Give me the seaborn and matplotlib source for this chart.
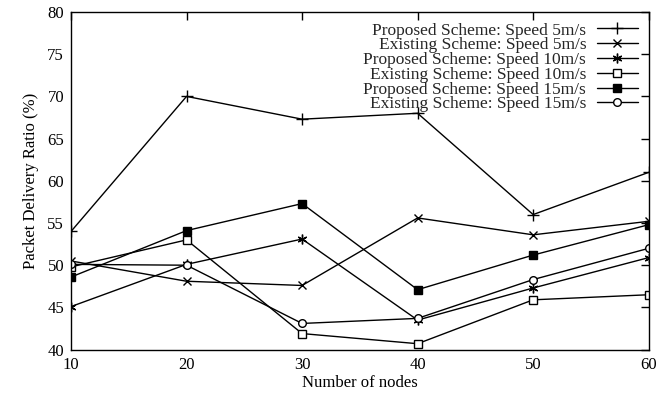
import matplotlib
matplotlib.use("Agg")
import matplotlib.pyplot as plt
import seaborn as sns
import pandas as pd

nodes = [10, 20, 30, 40, 50, 60]
proposed_5 = [54.0, 70.0, 67.3, 68.0, 56.0, 61.0]
existing_5 = [50.5, 48.1, 47.6, 55.6, 53.6, 55.2]
proposed_10 = [45.1, 50.1, 53.1, 43.5, 47.3, 50.9]
existing_10 = [49.8, 53.0, 41.9, 40.7, 45.9, 46.5]
proposed_15 = [48.6, 54.1, 57.3, 47.1, 51.2, 54.8]
existing_15 = [50.1, 50.0, 43.1, 43.7, 48.3, 52.0]

labels = [
    "Proposed Scheme: Speed 5m/s",
    "Existing Scheme: Speed 5m/s",
    "Proposed Scheme: Speed 10m/s",
    "Existing Scheme: Speed 10m/s",
    "Proposed Scheme: Speed 15m/s",
    "Existing Scheme: Speed 15m/s",
]
series = [proposed_5, existing_5, proposed_10, existing_10, proposed_15, existing_15]

sns.set_theme(style="white")
plt.rcParams['font.family'] = ['Liberation Serif', 'DejaVu Serif']

fig = plt.figure(figsize=(6.72, 3.93), dpi=100)
ax = fig.add_axes([0.1057, 0.1104, 0.8596, 0.8591])

styles = [
    dict(marker='+', markersize=9, markerfacecolor='black', mew=1.0),
    dict(marker='x', markersize=6, markerfacecolor='black', mew=1.0),
    dict(marker=(6, 2, 0), markersize=7, markerfacecolor='black', mew=1.0),
    dict(marker='s', markersize=5.5, markerfacecolor='white', mew=1.0),
    dict(marker='s', markersize=6, markerfacecolor='black', mew=1.0),
    dict(marker='o', markersize=5.5, markerfacecolor='white', mew=1.0),
]

for lab, vals, st in zip(labels, series, styles):
    df = pd.DataFrame({"nodes": nodes, "pdr": vals})
    sns.lineplot(data=df, x="nodes", y="pdr", ax=ax, color='black', linewidth=1.0,
                 markeredgecolor='black', label=lab, **st)

ax.set_xlim(10, 60)
ax.set_ylim(40, 80)
ax.set_xticks(nodes)
ax.set_yticks(range(40, 81, 5))
ax.tick_params(direction='in', top=True, right=True, length=6, width=1,
               labelsize=12, colors='black', pad=5)
for s in ax.spines.values():
    s.set_color('black')
    s.set_linewidth(1.0)
ax.set_xlabel("Number of nodes", fontsize=12, color='black', labelpad=2)
ax.set_ylabel("Packet Delivery Ratio (%)", fontsize=12, color='black', labelpad=6)

leg = ax.legend(loc='upper right', markerfirst=False, frameon=False, fontsize=12.5,
                handlelength=2.4, labelspacing=-0.08, borderaxespad=0.3,
                borderpad=0.3, handletextpad=0.6)
for t in leg.get_texts():
    t.set_ha('right')
leg._legend_box.align = "right"

fig.savefig("out.png", dpi=100)
